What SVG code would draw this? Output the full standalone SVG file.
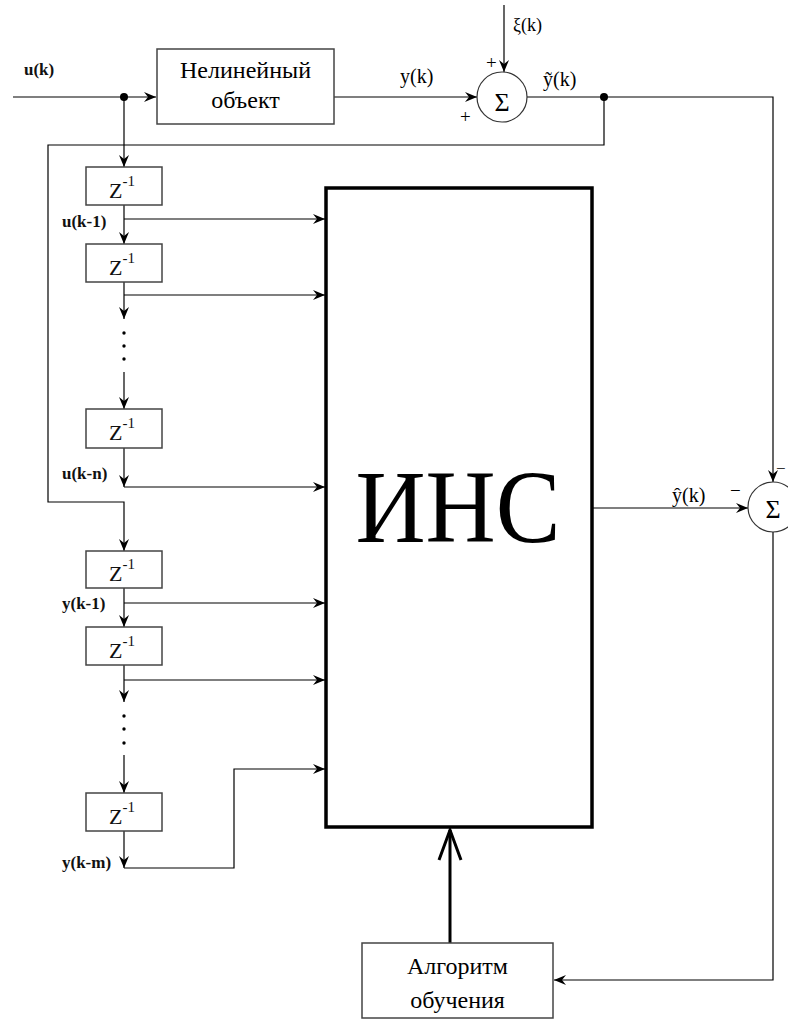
<svg xmlns="http://www.w3.org/2000/svg" width="788" height="1020" viewBox="0 0 788 1020">
<style>
.ln{fill:none;stroke:#000;stroke-width:1.2}
.bx{fill:#fff;stroke:#444;stroke-width:1.5}
.lbl{font-size:17px;font-weight:bold;fill:#111}
.z{font-size:22px;fill:#111}
.zs{font-size:15px}
text{font-family:'Liberation Serif','Times New Roman','DejaVu Serif',serif}
</style>
<defs>
<marker id="ar" markerUnits="userSpaceOnUse" markerWidth="13" markerHeight="10" refX="12" refY="5" orient="auto">
<path d="M0,0 L12,5 L0,10 L4,5 z" fill="#000"/>
</marker>
</defs>
<rect width="788" height="1020" fill="#fff"/>
<g id="connectors">
<path class="ln" d="M13,97 H156" marker-end="url(#ar)"/>
<path class="ln" d="M124,97 V167" marker-end="url(#ar)"/>
<path class="ln" d="M124,205 V244" marker-end="url(#ar)"/>
<path class="ln" d="M124,219 H325" marker-end="url(#ar)"/>
<path class="ln" d="M124,282 V319" marker-end="url(#ar)"/>
<path class="ln" d="M124,295 H325" marker-end="url(#ar)"/>
<circle cx="124" cy="333" r="1.7"/><circle cx="124" cy="346" r="1.7"/><circle cx="124" cy="359" r="1.7"/>
<path class="ln" d="M124,372 V409" marker-end="url(#ar)"/>
<path class="ln" d="M124,448 V487" marker-end="url(#ar)"/>
<path class="ln" d="M124,487 H325" marker-end="url(#ar)"/>
<path class="ln" d="M334,97 H477" marker-end="url(#ar)"/>
<path class="ln" d="M504,5 V72" marker-end="url(#ar)"/>
<path class="ln" d="M527,97 H773 V482" marker-end="url(#ar)"/>
<circle cx="604" cy="97" r="4"/>
<circle cx="124" cy="97" r="4"/>
<path class="ln" d="M604,97 V145 H48 V502 H124 V551" marker-end="url(#ar)"/>
<path class="ln" d="M124,588 V627" marker-end="url(#ar)"/>
<path class="ln" d="M124,603 H325" marker-end="url(#ar)"/>
<path class="ln" d="M124,665 V702" marker-end="url(#ar)"/>
<path class="ln" d="M124,680 H325" marker-end="url(#ar)"/>
<circle cx="124" cy="716" r="1.7"/><circle cx="124" cy="729" r="1.7"/><circle cx="124" cy="743" r="1.7"/>
<path class="ln" d="M124,755 V793" marker-end="url(#ar)"/>
<path class="ln" d="M124,831 V868" marker-end="url(#ar)"/>
<path class="ln" d="M124,868 H234 V769 H325" marker-end="url(#ar)"/>
<path class="ln" d="M592,508 H748" marker-end="url(#ar)"/>
<path class="ln" d="M773,532 V980 H554" marker-end="url(#ar)"/>
<path fill="none" stroke="#000" stroke-width="3" d="M450,943 V830"/>
<polyline fill="none" stroke="#000" stroke-width="3" points="439,860 450,830 461,860"/>
</g>
<g id="labels" fill="#000">
<text class="lbl" x="24" y="75">u(k)</text>
<text x="400" y="83" font-size="20">y(k)</text>
<text x="513" y="31" font-size="18">ξ(k)</text>
<text x="486" y="69" font-size="19">+</text>
<text x="460" y="123" font-size="19">+</text>
<text x="543" y="86" font-size="20">ỹ(k)</text>
<text x="672" y="502" font-size="20">ŷ(k)</text>
<text x="730" y="497" font-size="19">−</text>
<text x="776" y="474" font-size="17">−</text>
<text class="lbl" x="62" y="227">u(k-1)</text>
<text class="lbl" x="62" y="479">u(k-n)</text>
<text class="lbl" x="62" y="609">y(k-1)</text>
<text class="lbl" x="62" y="868">y(k-m)</text>
</g>
<g id="nonlinear">
<rect class="bx" x="157" y="49" width="177" height="75"/>
<text x="245.5" y="78" font-size="24" text-anchor="middle">Нелинейный</text>
<text x="245.5" y="108" font-size="24" text-anchor="middle">объект</text>
</g>
<g id="sum1">
<circle cx="502" cy="97" r="25" fill="#fff" stroke="#333" stroke-width="1.2"/>
<text x="502" y="111" font-size="26" text-anchor="middle">Σ</text>
</g>
<g id="sum2">
<circle cx="773" cy="507" r="25" fill="#fff" stroke="#333" stroke-width="1.2"/>
<text x="773" y="518" font-size="26" text-anchor="middle">Σ</text>
</g>
<g id="z1"><rect class="bx" x="86" y="167" width="76" height="38"/><text class="z" x="109" y="198">Z<tspan class="zs" dy="-12">-1</tspan></text></g>
<g id="z2"><rect class="bx" x="86" y="244" width="76" height="38"/><text class="z" x="109" y="275">Z<tspan class="zs" dy="-12">-1</tspan></text></g>
<g id="z3"><rect class="bx" x="86" y="409" width="76" height="39"/><text class="z" x="109" y="440">Z<tspan class="zs" dy="-12">-1</tspan></text></g>
<g id="z4"><rect class="bx" x="86" y="551" width="76" height="37"/><text class="z" x="109" y="581">Z<tspan class="zs" dy="-12">-1</tspan></text></g>
<g id="z5"><rect class="bx" x="86" y="627" width="76" height="38"/><text class="z" x="109" y="658">Z<tspan class="zs" dy="-12">-1</tspan></text></g>
<g id="z6"><rect class="bx" x="86" y="793" width="76" height="38"/><text class="z" x="109" y="824">Z<tspan class="zs" dy="-12">-1</tspan></text></g>
<g id="ins">
<rect x="326" y="188" width="266" height="639" fill="none" stroke="#000" stroke-width="3.5"/>
<text x="458" y="542" font-size="104" text-anchor="middle" textLength="205" lengthAdjust="spacingAndGlyphs">ИНС</text>
</g>
<g id="algo">
<rect class="bx" x="362" y="943" width="191" height="75"/>
<text x="457.5" y="974" font-size="24" text-anchor="middle">Алгоритм</text>
<text x="457.5" y="1008" font-size="24" text-anchor="middle">обучения</text>
</g>
</svg>
